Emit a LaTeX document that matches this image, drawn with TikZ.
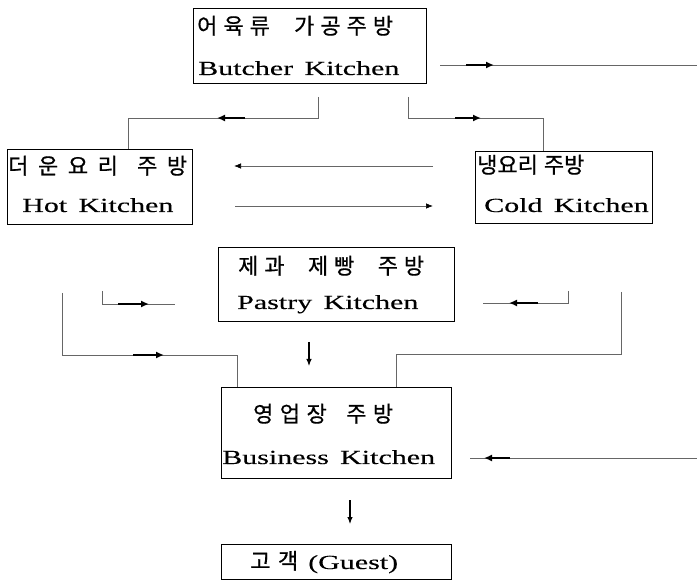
\documentclass[tikz,border=0pt]{standalone}
\usepackage{fontspec}
\setmainfont{Liberation Serif}[FakeStretch=1.5,WordSpace=1.5,FakeBold=0.3]
\newfontfamily\kr{Noto Sans CJK KR}[FakeBold=0.6]
\usetikzlibrary{arrows.meta,calc}
\tikzset{
  box/.style={draw, line width=0.8pt, inner sep=0pt, outer sep=0pt},
  txt/.style={inner sep=0pt, anchor=base west, font=\fontsize{20}{24}\selectfont},
  ktxt/.style={txt, font=\fontsize{22}{26}\selectfont\kr},
  conn/.style={draw=black!60, line width=0.7pt},
  marker/.style={line width=1.9pt, -{Latex[length=8pt,width=7pt]}},
  thinarr/.style={conn, -{Latex[length=7pt,width=5.5pt,color=black]}},
  downarr/.style={line width=1.1pt, -{Latex[length=7pt,width=5.5pt]}},
}
\newcommand{\spr}[2]{\makebox[#1][s]{#2}}
\begin{document}
\begin{tikzpicture}[x=1pt,y=-1pt]
\useasboundingbox (0,0) rectangle (697,580);
% boxes
\node[box, minimum width=233pt, minimum height=75pt] (butcher) at (309.5,45.5) {};
\node[box, minimum width=185pt, minimum height=75pt] (hot) at (99.5,186.5) {};
\node[box, minimum width=177pt, minimum height=72pt] (cold) at (563.5,187) {};
\node[box, minimum width=236pt, minimum height=74pt] (pastry) at (336,284) {};
\node[box, minimum width=230pt, minimum height=91pt] (business) at (336,432.5) {};
\node[box, minimum width=230pt, minimum height=35pt] (guest) at (336,561.5) {};
% texts
\node[ktxt] (butcherK) at (197,34) {\spr{196pt}{어\hfil 육\hfil 류\hfil\hfil\hfil\hfil 가\hfil 공\hfil 주\hfil 방}};
\node[txt] (butcherE) at (198,75) {Butcher Kitchen};
\node[ktxt] (hotK) at (8,174) {\spr{179pt}{더\hfil 운\hfil 요\hfil 리\hfil\hfil 주\hfil 방}};
\node[txt] (hotE) at (22,212) {Hot Kitchen};
\node[ktxt] (coldK) at (477,173) {냉요리\hspace{6pt}주방};
\node[txt] (coldE) at (484,212) {Cold Kitchen};
\node[ktxt] (pastryK) at (238,274) {\spr{186pt}{제\hfil 과\hfil\hfil\hfil\hfil 제\hfil 빵\hfil\hfil\hfil\hfil 주\hfil 방}};
\node[txt] (pastryE) at (237,309) {Pastry Kitchen};
\node[ktxt] (businessK) at (253,422) {\spr{140pt}{영\hfil 업\hfil 장\hfil\hfil\hfil 주\hfil 방}};
\node[txt] (businessE) at (222,464) {Business Kitchen};
\node[txt] (guestT) at (250,569) {{\kr\fontsize{22}{26}\selectfont\spr{48pt}{고\hfil 객}}\hspace{10pt}(Guest)};
% coordinates
\coordinate (r1a) at (440,65);  \coordinate (r1b) at (697,65);
\coordinate (m1a) at (466,65);  \coordinate (m1b) at (494,65);
\coordinate (bl1) at (318,97);  \coordinate (bl2) at (128,118);
\coordinate (m2a) at (245,118); \coordinate (m2b) at (217,118);
\coordinate (br1) at (408,97);  \coordinate (br2) at (543,118);
\coordinate (m3a) at (455,118); \coordinate (m3b) at (481,118);
\coordinate (hc1) at (433,166); \coordinate (hc2) at (234,166);
\coordinate (ch1) at (235,206); \coordinate (ch2) at (433,206);
\coordinate (sl1) at (102,291); \coordinate (sl2) at (175,304);
\coordinate (m5a) at (118,304); \coordinate (m5b) at (149,304);
\coordinate (sr1) at (568,291); \coordinate (sr2) at (483,303);
\coordinate (m6a) at (538,303); \coordinate (m6b) at (509,303);
\coordinate (gl1) at (62,293);  \coordinate (gl2) at (237,355);
\coordinate (m7a) at (133,355); \coordinate (m7b) at (164,355);
\coordinate (gr1) at (621,292); \coordinate (gr2) at (396,354);
\coordinate (r2a) at (697,458); \coordinate (r2b) at (470,458);
\coordinate (m8a) at (510,458); \coordinate (m8b) at (484,458);
\coordinate (d1a) at (309,342); \coordinate (d1b) at (309,366);
\coordinate (d2a) at (350,500); \coordinate (d2b) at (350,524);
% connectors
\draw[conn] (r1a) -- (r1b);
\draw[marker] (m1a) -- (m1b);
\draw[conn] (bl1) |- (bl2) -- (bl2 |- hot.north);
\draw[marker] (m2a) -- (m2b);
\draw[conn] (br1) |- (br2) -- (br2 |- cold.north);
\draw[marker] (m3a) -- (m3b);
\draw[thinarr] (hc1) -- (hc2);
\draw[thinarr] (ch1) -- (ch2);
\draw[conn] (sl1) |- (sl2);
\draw[marker] (m5a) -- (m5b);
\draw[conn] (sr1) |- (sr2);
\draw[marker] (m6a) -- (m6b);
\draw[conn] (gl1) |- (gl2) -- (gl2 |- business.north);
\draw[marker] (m7a) -- (m7b);
\draw[conn] (gr1) |- (gr2) -- (gr2 |- business.north);
\draw[conn] (r2a) -- (r2b);
\draw[marker] (m8a) -- (m8b);
\draw[downarr] (d1a) -- (d1b);
\draw[downarr] (d2a) -- (d2b);
\end{tikzpicture}
\end{document}
